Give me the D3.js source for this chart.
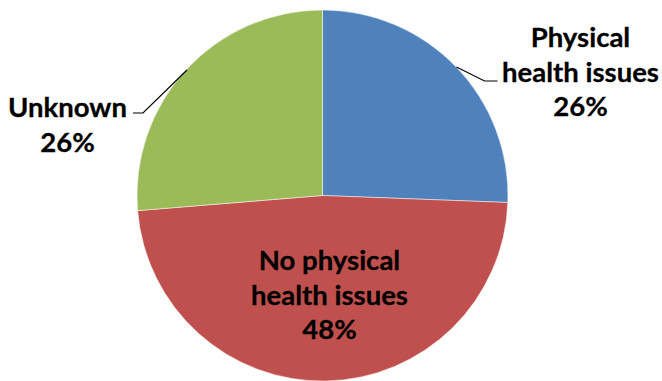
<!DOCTYPE html>
<html><head><meta charset="utf-8">
<script src="https://cdn.jsdelivr.net/npm/d3@7"></script>
<style>html,body{margin:0;padding:0;background:#fff;}svg{display:block;}</style>
</head><body>
<svg id="chart" width="662" height="381"></svg>
<script>
const categories = ["Physical health issues", "No physical health issues", "Unknown"];
const labelLines = [["Physical", "health issues"], ["No physical", "health issues"], ["Unknown"]];
const values = [25.6, 48.1, 26.3];
const colors = ["#4F81BD", "#C0504D", "#9BBB59"];

const W = 662, H = 381;
const cx = 322.5, cy = 195.5, R = 185.5;
const fontSize = 27.5, lineH = 34.5;

const svg = d3.select("#chart");
const g = svg.append("g").attr("transform", `translate(${cx},${cy})`);
const total = d3.sum(values);
const pie = d3.pie().sort(null).value(d => d)(values);
const arc = d3.arc().innerRadius(0).outerRadius(R);
const color = d3.scaleOrdinal().domain(categories).range(colors);
const pct = d3.format(".0%");

g.selectAll("path.slice").data(pie).enter().append("path")
  .attr("class", "slice")
  .attr("d", arc)
  .attr("fill", (d, i) => color(categories[i]))
  .attr("stroke", "#fff").attr("stroke-width", 0.5);

// label placements (relative to centre) and leader lines
const labelPos = [
  {x: 258, y: -158, leader: [[134, -128.5], [162, -114.5], [175, -114.5]]},
  {x: 7, y: 65, leader: null},
  {x: -255, y: -88, leader: [[-135.5, -125.5], [-179.5, -82.5], [-189.5, -82.5]]}
];

pie.forEach((d, i) => {
  const lines = labelLines[i].concat([pct(values[i] / total)]);
  const p = labelPos[i];
  const t = g.append("text")
    .attr("text-anchor", "middle")
    .attr("font-family", "Lato, 'Open Sans', sans-serif")
    .attr("font-weight", "bold")
    .attr("font-size", fontSize)
    .attr("fill", "#000")
    .attr("stroke", "#000").attr("stroke-width", 0.3);
  lines.forEach((s, k) => {
    t.append("tspan").attr("x", p.x).attr("y", p.y + k * lineH).attr("dy", "0.35em").text(s);
  });
  if (p.leader) {
    g.append("path")
      .attr("d", d3.line()(p.leader))
      .attr("fill", "none").attr("stroke", "#000").attr("stroke-width", 1.2);
  }
});
</script>
</body></html>
